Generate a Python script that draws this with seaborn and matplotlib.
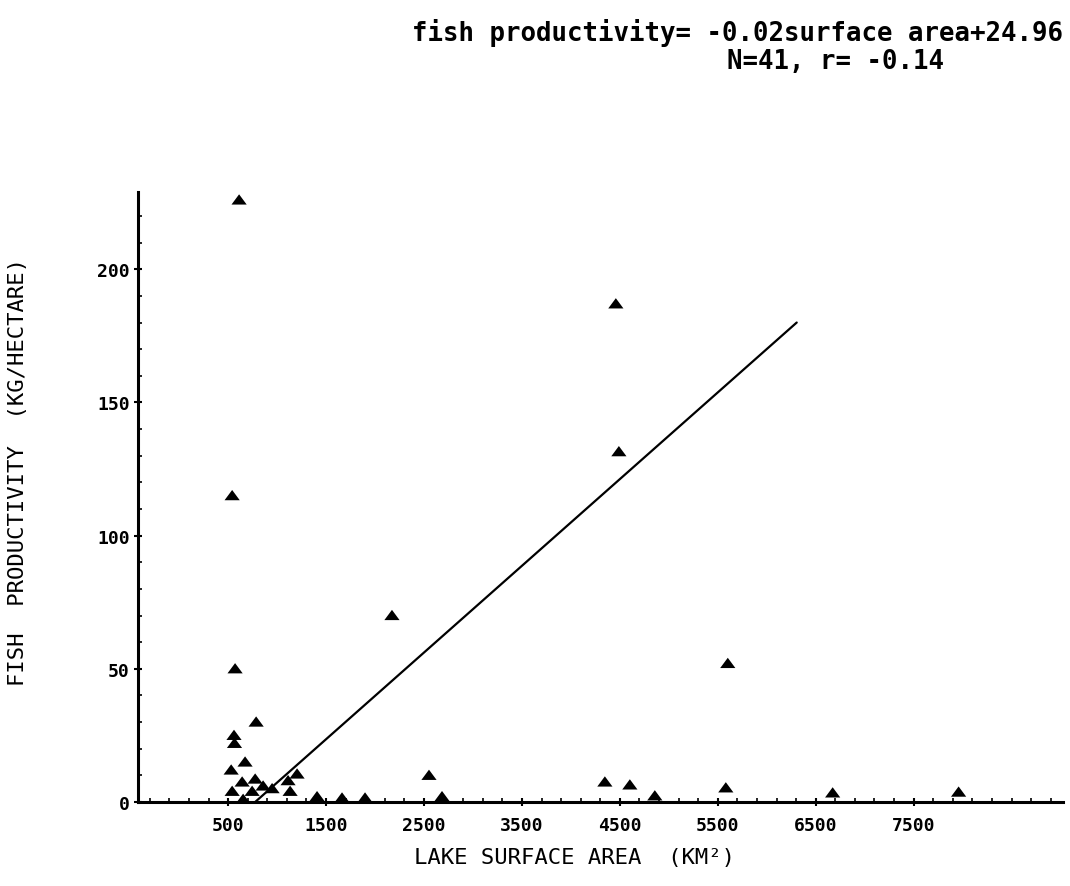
import numpy as np
import pandas as pd
import matplotlib
matplotlib.use("Agg")
import matplotlib.pyplot as plt
import seaborn as sns
from matplotlib.ticker import FixedLocator, MultipleLocator

# ---- data ----
surface_area = [612, 541, 571, 560, 565, 786, 673, 531, 643, 541, 653, 776, 745, 857,
                949, 1204, 1112, 1133, 1408, 1663, 1898, 2173, 2551, 2684, 4459, 4490,
                4347, 4602, 4857, 5602, 5582, 6673, 7959]
fish_productivity = [226, 115, 50, 25, 22, 30, 15, 12, 7.5, 4, 1, 8.6, 4, 6,
                     5, 10.5, 8, 4, 2, 1.5, 1.5, 70, 10, 2, 187, 131.5,
                     7.5, 6.4, 2.3, 52, 5.3, 3.4, 3.7]
fit_x = [776, 6306]
fit_y = [0, 180]
x_ticks = [500, 1500, 2500, 3500, 4500, 5500, 6500, 7500]
y_ticks = [0, 50, 100, 150, 200]

title_line1 = "fish productivity= -0.02surface area+24.96"
title_line2 = "N=41, r= -0.14"
x_label = "LAKE SURFACE AREA  (KM²)"
y_label = "FISH  PRODUCTIVITY  (KG/HECTARE)"

df = pd.DataFrame({"area": surface_area, "prod": fish_productivity})
fit = pd.DataFrame({"area": fit_x, "prod": fit_y})

sns.set_theme(style="white")
plt.rcParams["font.family"] = ["DejaVu Sans Mono", "DejaVu Sans"]

fig = plt.figure(figsize=(10.70, 8.87), dpi=100)
ax = fig.add_axes([0.129, 0.0947, 0.864, 0.6877])

tri = [(-1.0, -0.6), (1.0, -0.6), (0.0, 0.75), (-1.0, -0.6)]

sns.lineplot(data=fit, x="area", y="prod", ax=ax, color="black", linewidth=1.6)
sns.scatterplot(data=df, x="area", y="prod", ax=ax, marker=tri, color="black",
                s=120, edgecolor="none", zorder=3)

ax.set_xlim(-420, 9020)
ax.set_ylim(0, 229)

for side in ["top", "right"]:
    ax.spines[side].set_visible(False)
for side in ["left", "bottom"]:
    ax.spines[side].set_color("black")
    ax.spines[side].set_linewidth(2.2)

ax.xaxis.set_major_locator(FixedLocator(x_ticks))
ax.yaxis.set_major_locator(FixedLocator(y_ticks))
ax.xaxis.set_minor_locator(FixedLocator(np.arange(-300, 9000, 200)))
ax.yaxis.set_minor_locator(MultipleLocator(10))
ax.set_xticklabels([str(t) for t in x_ticks])
ax.set_yticklabels([str(t) for t in y_ticks])

ax.tick_params(axis="both", which="major", direction="inout", length=6, width=1.5,
               color="black", bottom=True, left=True, labelsize=13)
ax.tick_params(axis="x", which="major", pad=7)
ax.tick_params(axis="y", which="major", pad=3)
ax.tick_params(axis="both", which="minor", direction="in", length=3, width=1.2,
               color="black", bottom=True, left=True)
for lab in ax.get_xticklabels() + ax.get_yticklabels():
    lab.set_fontfamily("DejaVu Sans Mono")
    lab.set_fontweight("bold")
    lab.set_color("black")

ax.set_xlabel("")
ax.set_ylabel("")
fig.text(575 / 1070, 1 - 858 / 887, x_label, ha="center", va="center", fontsize=16,
         color="black", family=["DejaVu Sans Mono", "DejaVu Sans"])
fig.text(18 / 1070, 1 - 472 / 887, y_label, ha="center", va="center", rotation=90,
         fontsize=16, color="black", family=["DejaVu Sans Mono", "DejaVu Sans"])

fig.text(1063 / 1070, 1 - 33 / 887, title_line1, ha="right", va="center", fontsize=18.5,
         fontweight="bold", color="black", family=["DejaVu Sans Mono"])
fig.text(727 / 1070, 1 - 62 / 887, title_line2, ha="left", va="center", fontsize=18.5,
         fontweight="bold", color="black", family=["DejaVu Sans Mono"])

fig.savefig("out.png", dpi=100, facecolor="white")
